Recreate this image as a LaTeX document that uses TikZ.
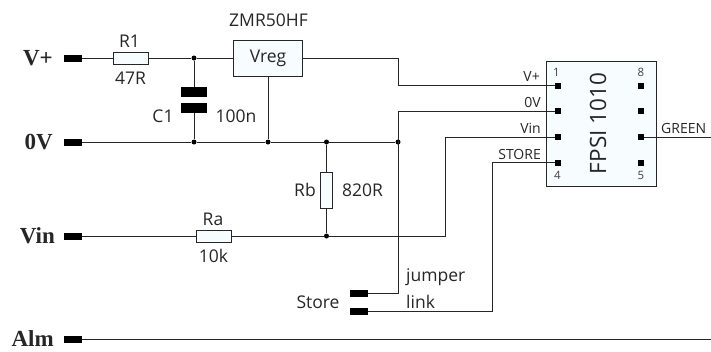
\documentclass[tikz,border=0pt]{standalone}
\usepackage{fontspec}
\setmainfont{Open Sans}
\newfontfamily\termfont{Liberation Serif}
\usepackage{xcolor}
\definecolor{palefill}{rgb}{.97,.99,1}
\tikzset{
	wire/.style={line width=0.8pt, color=black!85},
	pad/.style={fill=black, inner sep=0pt, minimum width=18pt, minimum height=7pt},
	pin/.style={fill=black, inner sep=0pt, minimum size=6pt},
	dot/.style={circle, fill=black, inner sep=0pt, minimum size=5pt},
	plate/.style={fill=black, inner sep=0pt, minimum width=26pt, minimum height=10pt},
	part/.style={draw=black!85, line width=0.8pt, fill=palefill, inner sep=0pt},
	lbl/.style={font=\fontsize{17.5}{19}\selectfont, inner sep=0pt, text=black!85},
	pinlbl/.style={font=\fontsize{14}{15}\selectfont, inner sep=0pt, text=black!85, anchor=base east},
	numlbl/.style={font=\fontsize{11.5}{13}\selectfont, inner sep=0pt, text=black!75},
	termlbl/.style={font=\fontsize{23}{25}\selectfont\termfont\bfseries, inner sep=0pt, anchor=base east, text=black!85}
}
\begin{document}
\begin{tikzpicture}[x=1pt, y=-1pt]
\useasboundingbox (0,0) rectangle (711,351);

% Anschluesse links
\foreach \name/\y in {vplus/58, zero/142, vin/236, alm/339}
	\node[pad] (pad\name) at (73,\y) {};
\node[termlbl] (tvplus) at (53,65) {V+};
\node[termlbl] (tzero) at (53,149) {0V};
\node[termlbl] (tvin) at (55,243) {Vin};
\node[termlbl] (talm) at (54,346) {Alm};

% Bauteile
\node[part, minimum width=35pt, minimum height=12pt] (r1) at (130.5,58) {};
\node[part, minimum width=35pt, minimum height=12pt] (ra) at (213.5,236) {};
\node[part, minimum width=12pt, minimum height=36pt] (rb) at (326.5,190) {};
\node[part, minimum width=69pt, minimum height=36pt, font=\fontsize{17.5}{19}\selectfont, text=black!85] (vreg) at (268,58) {};
\node[font=\fontsize{17.5}{19}\selectfont, text=black!85, anchor=base, inner sep=0pt] (vregname) at (268,62) {Vreg};
\node[plate] (c1a) at (194,92) {};
\node[plate] (c1b) at (194,108) {};

% IC
\node[part, minimum width=110pt, minimum height=125pt] (ic) at (601,123.5) {};
\node[rotate=90, font=\fontsize{22.5}{24}\selectfont, inner sep=0pt, text=black!85] (icname) at (598,123.5) {FPSI 1010};
\foreach \n/\y in {1/85.5, 2/111, 3/137, 4/162.5}
	\node[pin] (pin\n) at (558,\y) {};
\foreach \n/\y in {8/85.5, 7/111, 6/137, 5/162.5}
	\node[pin] (pin\n) at (641,\y) {};
\node[numlbl] (n1) at (556.5,72) {1};
\node[numlbl] (n4) at (557.5,175) {4};
\node[numlbl] (n8) at (641,72) {8};
\node[numlbl] (n5) at (641,175) {5};
\node[pinlbl] (lvplus) at (540,81) {V+};
\node[pinlbl] (lzero) at (541,107) {0V};
\node[pinlbl] (lvin) at (541,133) {Vin};
\node[pinlbl] (lstore) at (541,159) {STORE};
\node[pinlbl, anchor=base west] (lgreen) at (661,133) {GREEN};

% Knotenpunkte
\node[dot] (j1) at (194,58) {};
\node[dot] (j2) at (194,142) {};
\node[dot] (j3) at (268,142) {};
\node[dot] (j4) at (326.5,142) {};
\node[dot] (j5) at (398,142) {};
\node[dot] (j6) at (326.5,236) {};

% Jumper
\node[pad] (jmpa) at (359,293) {};
\node[pad] (jmpb) at (359,311.5) {};

% freie Enden und Ecken
\coordinate (egreen) at (711,137);
\coordinate (ealm) at (711,339);

% Leitungen
\draw[wire] (padvplus) -- (r1) (r1) -- (j1) -- (vreg);
\draw[wire] (vreg.east) -- (398,58) |- (pin1);
\draw[wire] (padzero) -- (j2) -- (j3) -- (j4) -- (j5);
\draw[wire] (j1) -- (c1a) (c1b) -- (j2);
\draw[wire] (vreg.south) -- (j3);
\draw[wire] (j4) -- (rb) (rb) -- (j6);
\draw[wire] (padvin) -- (ra) (ra) -- (j6);
\draw[wire] (j6) -- (445.5,236) |- (pin3);
\draw[wire] (jmpa) -- (398,293) |- (pin2);
\draw[wire] (jmpb) -- (492,311.5) |- (pin4);
\draw[wire] (pin6) -- (egreen);
\draw[wire] (padalm) -- (ealm);

% Beschriftung
\node[lbl, anchor=base] (zmr) at (268.5,26) {ZMR50HF};
\node[lbl, anchor=base] (lr1) at (129.5,47) {R1};
\node[lbl, anchor=base] (vr1) at (130.5,84) {47R};
\node[lbl, anchor=base] (lc1) at (163,122) {C1};
\node[lbl, anchor=base] (vc1) at (236,122) {100n};
\node[lbl, anchor=base] (lrb) at (305,196) {Rb};
\node[lbl, anchor=base] (vrb) at (362.5,196) {820R};
\node[lbl, anchor=base] (lra) at (213,225) {Ra};
\node[lbl, anchor=base] (vra) at (213.5,262) {10k};
\node[lbl, anchor=base] (lstorej) at (318,308) {Store};
\node[lbl, anchor=base west] (ljump) at (406,281.5) {jumper};
\node[lbl, anchor=base west] (llink) at (406,308) {link};
\end{tikzpicture}
\end{document}
